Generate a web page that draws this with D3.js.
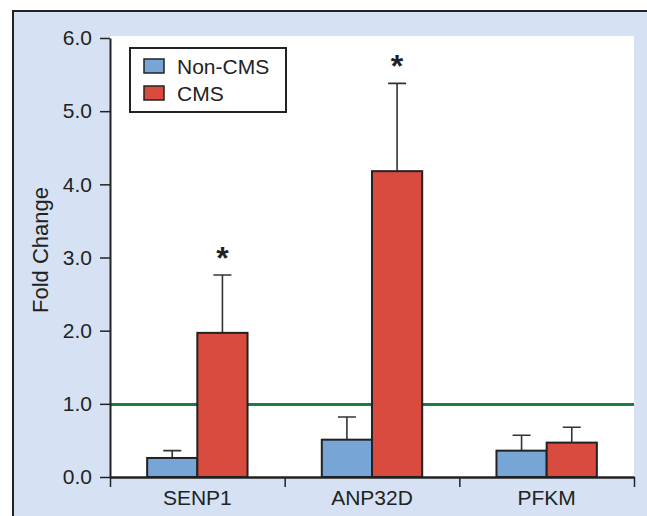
<!DOCTYPE html>
<html>
<head>
<meta charset="utf-8">
<script src="https://cdn.jsdelivr.net/npm/d3@7"></script>
<style>
  html, body { margin: 0; padding: 0; background: #fff; }
  svg { display: block; font-family: "Liberation Sans", Arial, Helvetica, sans-serif; }
</style>
</head>
<body>
<svg class="canvas" width="647" height="516"></svg>
<script>
'use strict';

// data
const genes = ['SENP1', 'ANP32D', 'PFKM'];
const groups = ['Non-CMS', 'CMS'];
const nonCms = [0.26, 0.51, 0.36];
const nonCmsErr = [0.10, 0.31, 0.21];
const cms = [1.97, 4.18, 0.47];
const cmsErr = [0.79, 1.20, 0.21];
const starred = [true, true, false]; // significance on CMS bar
const yTicks = [0, 1, 2, 3, 4, 5, 6];
const refLine = 0.99;

const colors = { 'Non-CMS': '#77a5d5', 'CMS': '#da4b3f' };

const svg = d3.select('.canvas'),
  plot = { left: 110, right: 634, top: 36, bottom: 477 };

// background + frame
svg.append('rect').attr('x', 14).attr('y', 12).attr('width', 633).attr('height', 504).attr('fill', '#d6e2f3');
svg.append('rect')
  .attr('x', plot.left).attr('y', plot.top)
  .attr('width', plot.right - plot.left).attr('height', plot.bottom - plot.top)
  .attr('fill', '#fff');
svg.append('path').attr('d', 'M13,516V11H647').attr('fill', 'none').attr('stroke', '#222').attr('stroke-width', 2);

const x0 = d3.scaleBand().domain(genes).range([plot.left, plot.right]).padding(0);
const x1 = d3.scaleBand().domain(groups).range([0, x0.bandwidth()]).paddingInner(0).paddingOuter(0.74);
const y = d3.scaleLinear().domain([0, 6]).range([plot.bottom, 38]);

const rows = genes.map((g, i) => ({
  gene: g,
  star: starred[i],
  bars: [
    { group: 'Non-CMS', value: nonCms[i], err: nonCmsErr[i] },
    { group: 'CMS', value: cms[i], err: cmsErr[i] }
  ]
}));

// reference line at 1.0
svg.append('line')
  .attr('x1', plot.left).attr('x2', plot.right)
  .attr('y1', y(refLine)).attr('y2', y(refLine))
  .attr('stroke', '#1b7d3e').attr('stroke-width', 3);

const geneG = svg.selectAll('.gene')
  .data(rows)
  .enter()
  .append('g')
  .attr('class', 'gene')
  .attr('transform', d => `translate(${x0(d.gene)},0)`);

// error bars (upper only)
geneG.selectAll('.err')
  .data(d => d.bars)
  .enter()
  .append('path')
  .attr('class', 'err')
  .attr('d', b => {
    const cx = x1(b.group) + x1.bandwidth() / 2;
    return `M${cx},${y(b.value)}V${y(b.value + b.err)}M${cx - 9},${y(b.value + b.err)}H${cx + 9}`;
  })
  .attr('fill', 'none')
  .attr('stroke', '#333')
  .attr('stroke-width', 1.6);

geneG.selectAll('.bar')
  .data(d => d.bars)
  .enter()
  .append('rect')
  .attr('class', 'bar')
  .attr('x', b => x1(b.group))
  .attr('y', b => y(b.value))
  .attr('width', x1.bandwidth())
  .attr('height', b => y(0) - y(b.value))
  .attr('fill', b => colors[b.group])
  .attr('stroke', '#222')
  .attr('stroke-width', 2);

// significance stars
geneG.filter(d => d.star)
  .append('text')
  .attr('x', x1('CMS') + x1.bandwidth() / 2)
  .attr('y', d => y(d.bars[1].value + d.bars[1].err) - 6)
  .attr('text-anchor', 'middle')
  .attr('font-size', 32)
  .attr('font-weight', 'bold')
  .attr('fill', '#222')
  .text('*');

// y axis
const yAxis = svg.append('g')
  .attr('transform', `translate(${plot.left},0)`)
  .call(d3.axisLeft(y).tickValues(yTicks).tickFormat(d3.format('.1f')).tickSize(10).tickSizeOuter(0).tickPadding(8));
yAxis.select('.domain').attr('stroke', '#222').attr('stroke-width', 2);
yAxis.selectAll('.tick line').attr('stroke', '#222').attr('stroke-width', 1.5);
yAxis.selectAll('.tick text').attr('font-size', 21).attr('fill', '#222').attr('font-family', null);

// x axis: boundary ticks + centred labels
const xEdges = d3.scaleLinear().domain([0, genes.length]).range([plot.left, plot.right]);
const xAxis = svg.append('g')
  .attr('transform', `translate(0,${plot.bottom})`)
  .call(d3.axisBottom(xEdges).tickValues(d3.range(genes.length + 1)).tickFormat('').tickSize(10).tickSizeOuter(0));
xAxis.select('.domain').attr('stroke', '#222').attr('stroke-width', 2.5);
xAxis.selectAll('.tick line').attr('stroke', '#222').attr('stroke-width', 1.5);

const xLabels = svg.append('g')
  .attr('transform', `translate(0,${plot.bottom})`)
  .call(d3.axisBottom(x0).tickSize(0).tickPadding(13));
xLabels.select('.domain').remove();
xLabels.selectAll('.tick text').attr('font-size', 21).attr('fill', '#222').attr('font-family', null);

// y title
svg.append('text')
  .attr('transform', 'translate(48,250) rotate(-90)')
  .attr('text-anchor', 'middle')
  .attr('font-size', 22)
  .attr('fill', '#222')
  .text('Fold Change');

// legend
const legend = svg.append('g').attr('transform', 'translate(130,48)');
legend.append('rect')
  .attr('width', 156).attr('height', 64)
  .attr('fill', '#fff').attr('stroke', '#222').attr('stroke-width', 2);
const items = legend.selectAll('.legend-item')
  .data(groups)
  .enter()
  .append('g')
  .attr('class', 'legend-item')
  .attr('transform', (d, i) => `translate(14,${11 + i * 27})`);
items.append('rect')
  .attr('width', 20).attr('height', 14)
  .attr('fill', d => colors[d])
  .attr('stroke', '#222').attr('stroke-width', 1.5);
items.append('text')
  .attr('x', 33).attr('y', 15)
  .attr('font-size', 21)
  .attr('fill', '#222')
  .text(d => d);
</script>
</body>
</html>
